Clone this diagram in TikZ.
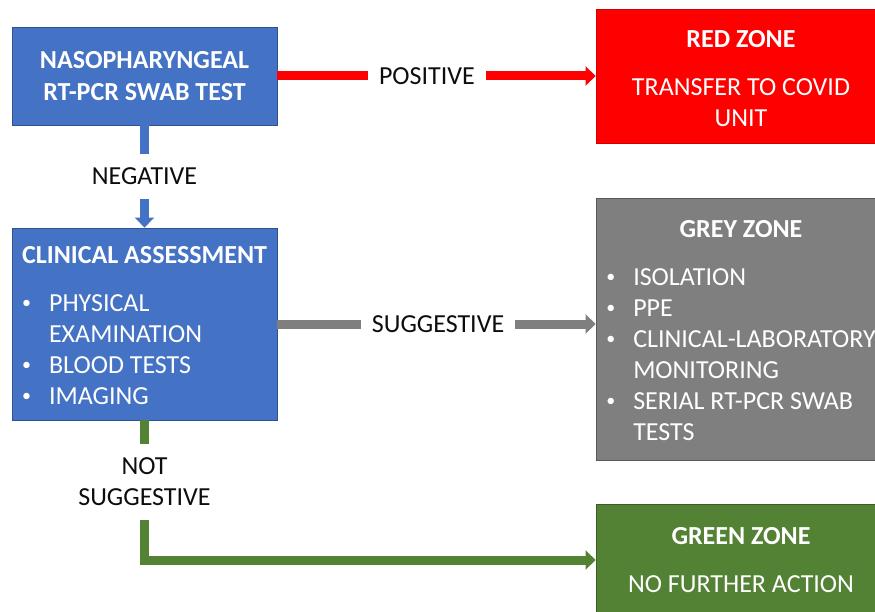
\documentclass[tikz,border=0pt]{standalone}
\usepackage{fontspec}
\setmainfont{Carlito}
\usepackage{tikz}
\usetikzlibrary{arrows.meta,positioning,calc}
\definecolor{ink}{HTML}{0D0D0D}
\definecolor{bluefill}{HTML}{4472C4}
\definecolor{blueedge}{HTML}{2F528F}
\definecolor{redfill}{HTML}{FF0000}
\definecolor{rededge}{HTML}{D00000}
\definecolor{greyfill}{HTML}{7F7F7F}
\definecolor{greyedge}{HTML}{595959}
\definecolor{greenfill}{HTML}{548235}
\definecolor{greenedge}{HTML}{3B5E25}
\newcommand{\zonebullet}{\makebox[27pt][l]{\raisebox{2.5pt}{\fontsize{18}{18}\selectfont\textbullet}}}

\begin{document}
\begin{tikzpicture}[
  x=1pt, y=-1pt,
  font=\fontsize{26}{31}\selectfont,
  box/.style={draw=blueedge, fill=bluefill, text=white, line width=0.8pt,
              minimum width=265pt, align=center, inner sep=0pt},
  zone/.style={box, minimum width=290pt},
  lbl/.style={fill=white, text=ink, inner xsep=11pt, inner ysep=14pt},
  arr/.style={-{Triangle[length=10pt, width=19pt]}, line width=9pt}
]

\useasboundingbox (0,0) rectangle (875,612);

\node[box, minimum height=98pt, font=\fontsize{26}{31.5}\selectfont\bfseries] (swab)
  at (144.5,76) {NASOPHARYNGEAL\\RT-PCR SWAB TEST};
\node[box, minimum height=192pt] (clin) at (144.5,324) {%
  \begin{tabular}{@{}l@{}l@{}}
  \multicolumn{2}{@{}c@{}}{\rule{0pt}{29pt}\bfseries CLINICAL ASSESSMENT}\\[17pt]
  \zonebullet & PHYSICAL\\
              & EXAMINATION\\
  \zonebullet & BLOOD TESTS\\
  \zonebullet & IMAGING
  \end{tabular}};

\node[zone, draw=rededge, fill=redfill, minimum height=134pt] (red)
  at (741,76) {{\strut\bfseries RED ZONE}\\[17pt]TRANSFER TO COVID\\UNIT};
\node[zone, draw=greyedge, fill=greyfill, minimum height=262pt] (grey) at (741,329) {%
  \begin{tabular}{@{}l@{}l@{}}
  \multicolumn{2}{@{}c@{}}{\rule{0pt}{29pt}\bfseries GREY ZONE}\\[17pt]
  \zonebullet & ISOLATION\\
  \zonebullet & PPE\\
  \zonebullet & CLINICAL-LABORATORY\\
              & MONITORING\\
  \zonebullet & SERIAL RT-PCR SWAB\\
              & TESTS
  \end{tabular}};
\node[zone, draw=greenedge, fill=greenfill, minimum height=112pt] (green)
  at (741,560) {{\bfseries GREEN ZONE}\\[17pt]NO FURTHER ACTION};

% Outcome arrows
\draw[arr, draw=redfill] (swab.east) -- node[lbl, pos=0.47] {POSITIVE} (red.west);
\draw[arr, draw=bluefill] (swab.south) -- node[lbl] {NEGATIVE} (clin.north);
\draw[arr, draw=greyfill] (clin.east) -- node[lbl, pos=0.505] {SUGGESTIVE} (clin.east -| grey.west);
\draw[arr, draw=greenfill] (clin.south) |- node[lbl, pos=0.22, align=center] {NOT\\SUGGESTIVE} (green.west);

\end{tikzpicture}
\end{document}
